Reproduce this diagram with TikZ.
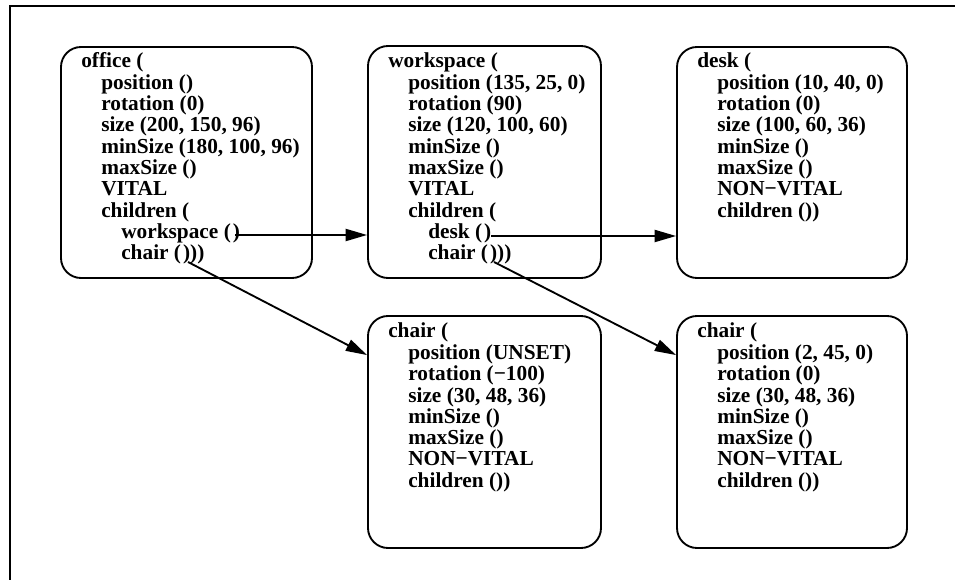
\documentclass[tikz,border=0pt]{standalone}
\usepackage{fontspec}
\setmainfont{Liberation Serif}
\usetikzlibrary{arrows.meta,fit,calc}

% indentation of one nesting level inside a record
\newcommand\lv{\hspace*{15pt}}
% narrow gap of an empty port inside parentheses
\newcommand\gp{\kern1.5pt}
% a record: left-aligned lines whose baseline is that of the first line
\newcommand\rec[1]{\begin{tabular}[t]{@{}l@{}}#1\end{tabular}}

\begin{document}
\begin{tikzpicture}[x=0.75pt,y=-0.75pt,
  recbox/.style={draw,line width=1.4pt,rounded corners=15pt,inner sep=0pt},
  rectext/.style={anchor=base west,inner sep=0pt,
    font=\fontsize{16}{16}\selectfont\bfseries},
  link/.style={line width=1.4pt,-{Triangle[length=16pt,width=9pt]}}]

\useasboundingbox (0,0) rectangle (955,580);

% frame
\draw[line width=1.5pt] (10,580) -- (10,6) -- (955,6);

% record outlines
\node[recbox,fit={(61,47) (312,278)}] (office) {};
\node[recbox,fit={(368,46) (601,278)}] (workspace) {};
\node[recbox,fit={(677,47) (907,278)}] (desk) {};
\node[recbox,fit={(368,316) (601,548)}] (chairA) {};
\node[recbox,fit={(677,316) (907,548)}] (chairB) {};

% record contents
\node[rectext] (officetxt) at (81,68) {\rec{%
  office (\\
  \lv position ()\\
  \lv rotation (0)\\
  \lv size (200, 150, 96)\\
  \lv minSize (180, 100, 96)\\
  \lv maxSize ()\\
  \lv VITAL\\
  \lv children (\\
  \lv\lv workspace (\gp)\\
  \lv\lv chair (\gp)))}};

\node[rectext] (workspacetxt) at (388,68) {\rec{%
  workspace (\\
  \lv position (135, 25, 0)\\
  \lv rotation (90)\\
  \lv size (120, 100, 60)\\
  \lv minSize ()\\
  \lv maxSize ()\\
  \lv VITAL\\
  \lv children (\\
  \lv\lv desk (\gp)\\
  \lv\lv chair (\gp)))}};

\node[rectext] (desktxt) at (697,68) {\rec{%
  desk (\\
  \lv position (10, 40, 0)\\
  \lv rotation (0)\\
  \lv size (100, 60, 36)\\
  \lv minSize ()\\
  \lv maxSize ()\\
  \lv NON−VITAL\\
  \lv children ())}};

\node[rectext] (chairAtxt) at (388,338) {\rec{%
  chair (\\
  \lv position (UNSET)\\
  \lv rotation (−100)\\
  \lv size (30, 48, 36)\\
  \lv minSize ()\\
  \lv maxSize ()\\
  \lv NON−VITAL\\
  \lv children ())}};

\node[rectext] (chairBtxt) at (697,338) {\rec{%
  chair (\\
  \lv position (2, 45, 0)\\
  \lv rotation (0)\\
  \lv size (30, 48, 36)\\
  \lv minSize ()\\
  \lv maxSize ()\\
  \lv NON−VITAL\\
  \lv children ())}};

% ports inside the child lists
\coordinate (pOfficeWs) at (235,235);
\coordinate (pOfficeCh) at (188,262);
\coordinate (pWsDesk) at (491,236);
\coordinate (pWsCh) at (494,262);

% links to the children
\draw[link] (pOfficeWs) -- (pOfficeWs -| workspace.west);
\draw[link] (pOfficeCh) -- ($(chairA.north west)+(0,40)$);
\draw[link] (pWsDesk) -- (pWsDesk -| desk.west);
\draw[link] (pWsCh) -- ($(chairB.north west)+(0,40)$);

\end{tikzpicture}
\end{document}
